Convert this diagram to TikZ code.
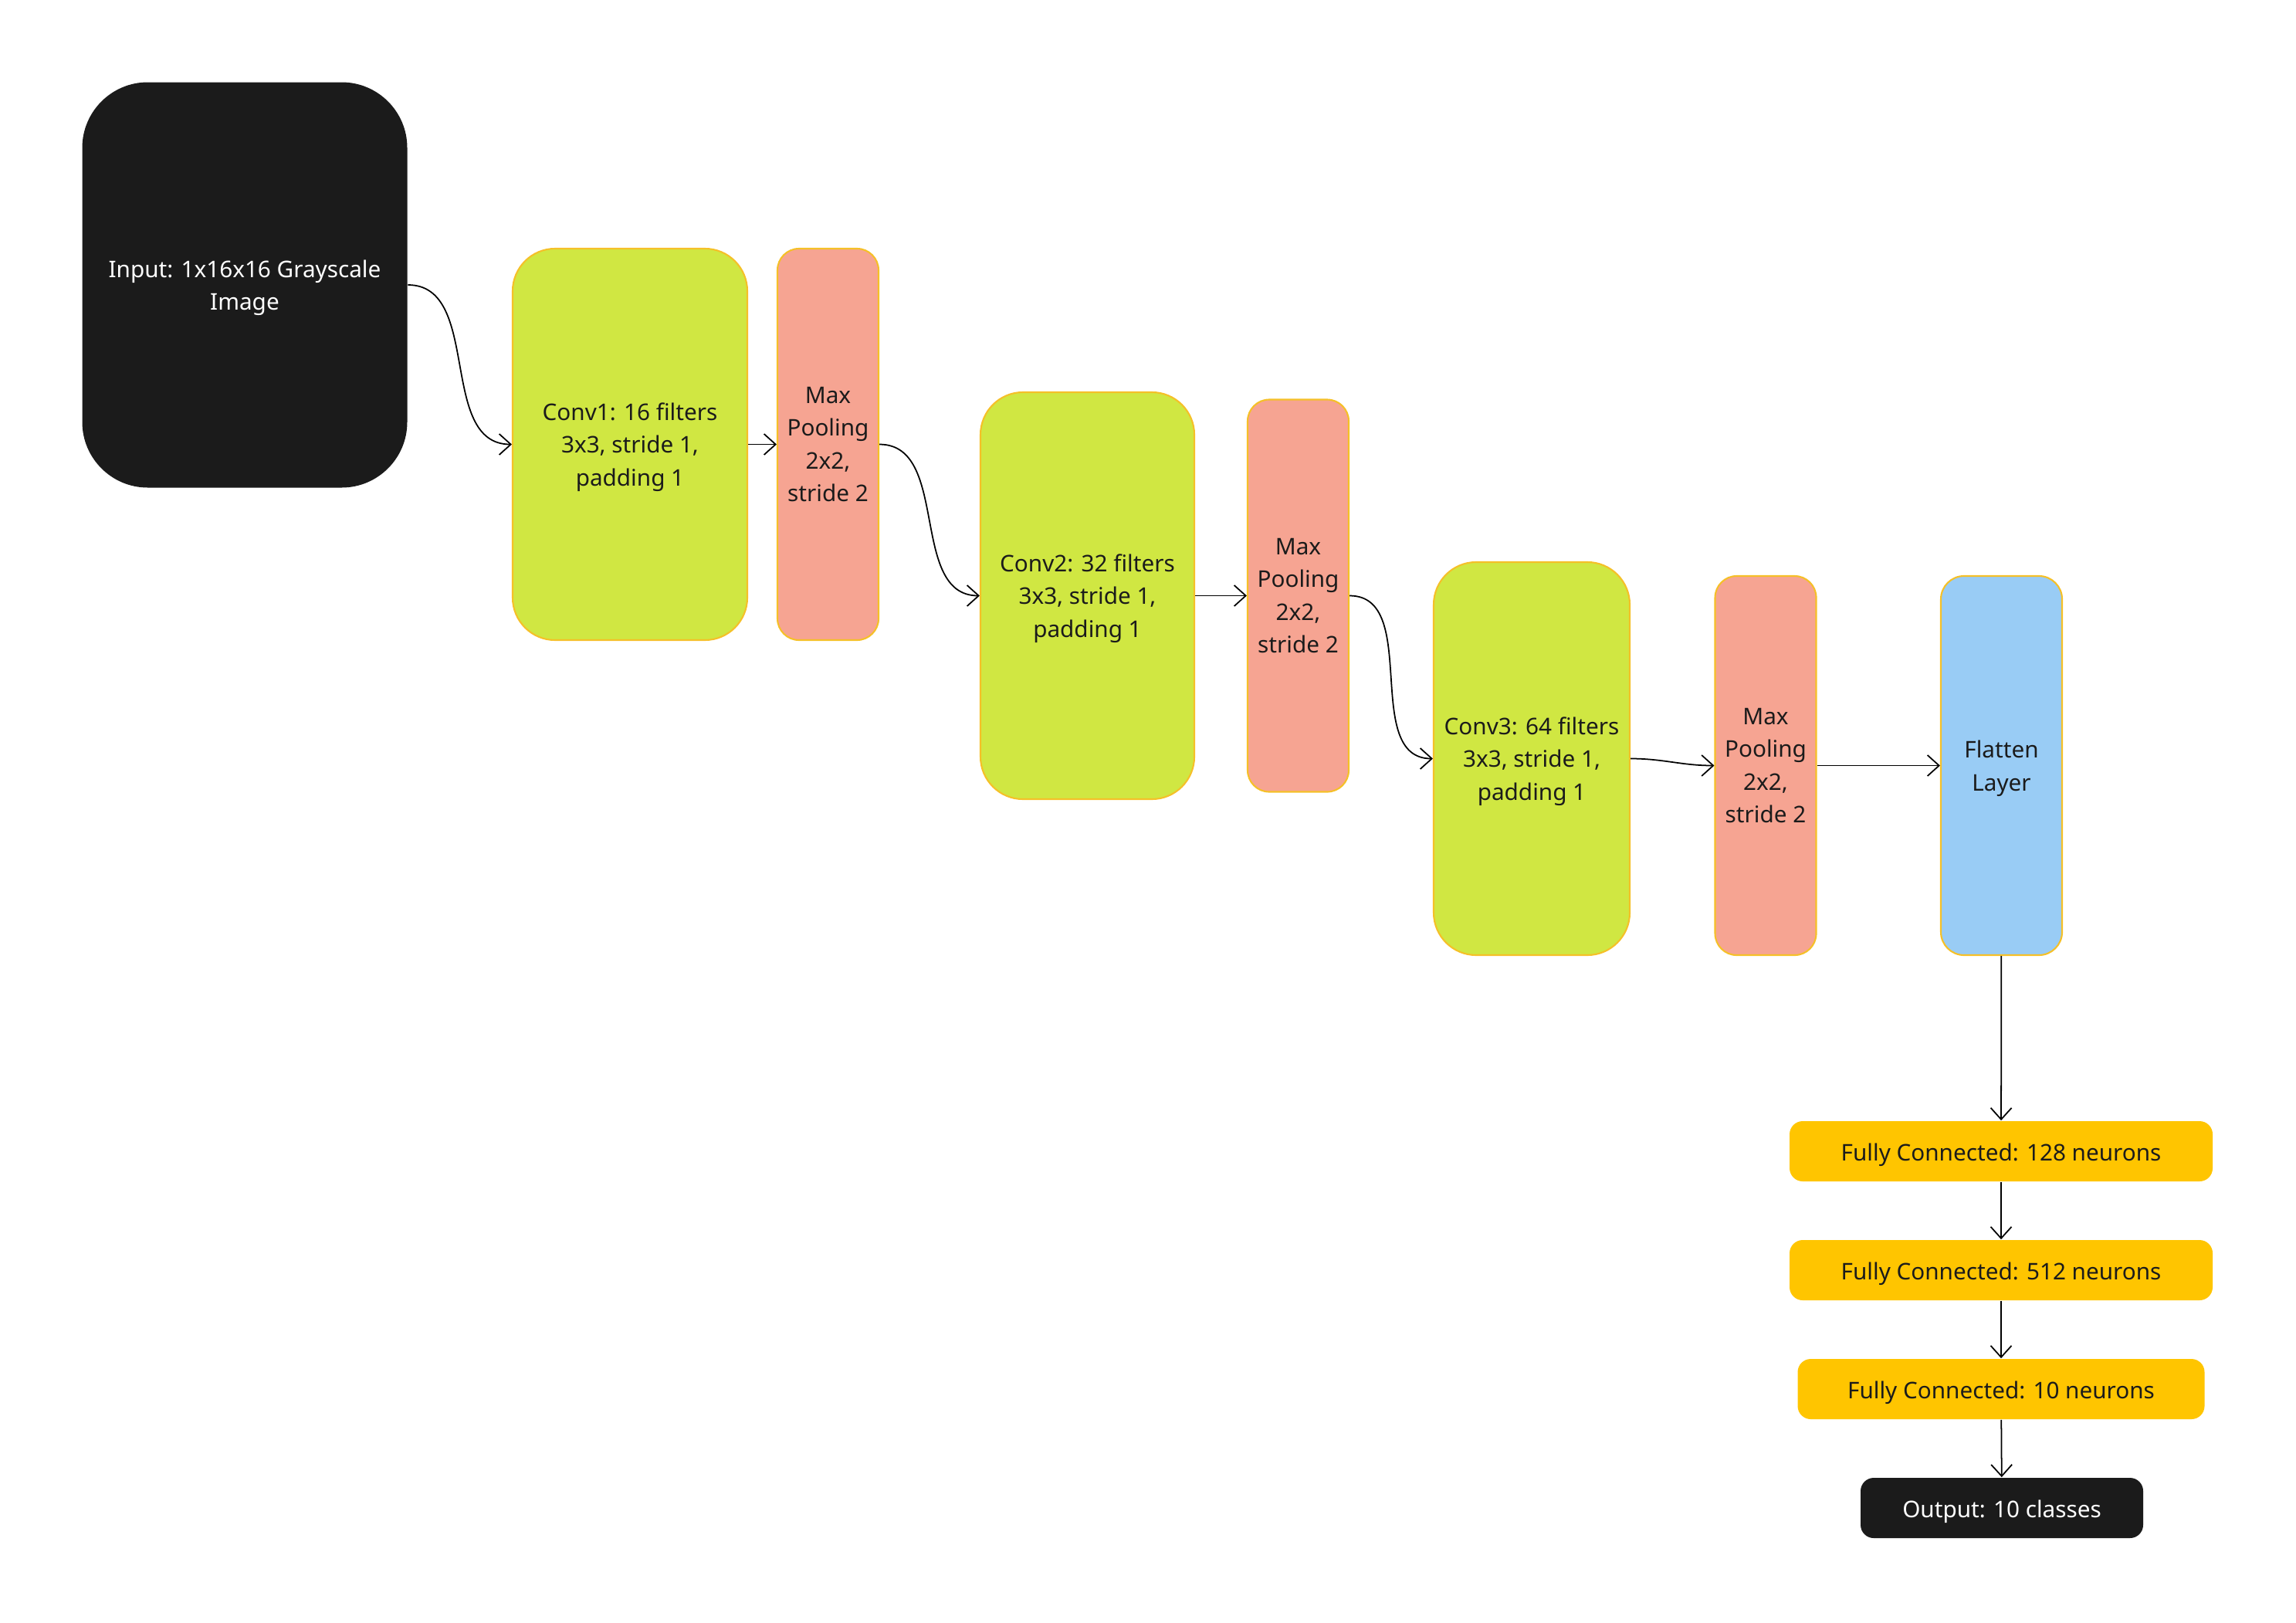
\documentclass[tikz,border=0pt]{standalone}
\usepackage{fontspec}
\setmainfont{Noto Sans}
\usetikzlibrary{arrows.meta}
\definecolor{inkdark}{RGB}{27,27,27}
\definecolor{convgreen}{RGB}{208,231,66}
\definecolor{poolred}{RGB}{246,164,146}
\definecolor{flatblue}{RGB}{153,204,245}
\definecolor{fcyellow}{RGB}{255,197,0}
\definecolor{edgeyellow}{RGB}{245,192,40}
\begin{document}
\begin{tikzpicture}[>={Straight Barb[length=1.5mm, width=2.7mm]}, line width=0.5pt,
	font=\fontsize{8.45}{12.1}\selectfont,
	boxtext/.style={execute at begin node={\rule{0pt}{9pt}}},
	layer/.style={draw=edgeyellow, line width=0.6pt, align=center, inner sep=0pt, text=inkdark, text depth=-0.7pt},
	conv/.style={layer, fill=convgreen, rounded corners=5.5mm},
	pool/.style={layer, fill=poolred, rounded corners=2.8mm, minimum width=1.31cm, text depth=-1.5pt},
	dense/.style={boxtext, fill=fcyellow, rounded corners=1.7mm, minimum height=0.78cm, inner sep=0pt, text=inkdark},
	blackbox/.style={fill=inkdark, text=white, align=center, inner sep=0pt}]
	\useasboundingbox (0, 0) rectangle (29.74, -21.01);
	\node[blackbox, rounded corners=8.5mm, minimum width=4.21cm, minimum height=5.25cm, text depth=-0.7pt] (input) at (3.17, -3.69) {Input: 1x16x16 Grayscale\\Image};
	\node[conv, minimum width=3.04cm, minimum height=5.07cm] (conv1) at (8.16, -5.755) {Conv1: 16 filters\\3x3, stride 1,\\padding 1};
	\node[pool, minimum height=5.07cm] (pool1) at (10.725, -5.755) {Max\\Pooling\\2x2,\\stride 2};
	\node[conv, minimum width=2.77cm, minimum height=5.27cm] (conv2) at (14.085, -7.715) {Conv2: 32 filters\\3x3, stride 1,\\padding 1};
	\node[pool, minimum height=5.08cm] (pool2) at (16.815, -7.715) {Max\\Pooling\\2x2,\\stride 2};
	\node[conv, minimum width=2.54cm, minimum height=5.09cm] (conv3) at (19.84, -9.825) {Conv3: 64 filters\\3x3, stride 1,\\padding 1};
	\node[pool, minimum height=4.91cm] (pool3) at (22.87, -9.915) {Max\\Pooling\\2x2,\\stride 2};
	\node[layer, fill=flatblue, rounded corners=3mm, minimum width=1.57cm, minimum height=4.91cm] (flat) at (25.925, -9.915) {Flatten\\Layer};
	\node[dense, minimum width=5.48cm] (fc1) at (25.92, -14.91) {Fully Connected: 128 neurons};
	\node[dense, minimum width=5.48cm] (fc2) at (25.92, -16.45) {Fully Connected: 512 neurons};
	\node[dense, minimum width=5.27cm] (fc3) at (25.92, -17.99) {Fully Connected: 10 neurons};
	\node[blackbox, boxtext, rounded corners=1.7mm, minimum width=3.66cm, minimum height=0.78cm] (out) at (25.93, -19.53) {Output: 10 classes};
	% feature extraction
	\draw[->] (input.east) to[out=0, in=180] (conv1.west);
	\draw[->] (conv1) -- (pool1);
	\draw[->] (pool1.east) to[out=0, in=180] (conv2.west);
	\draw[->] (conv2) -- (pool2);
	\draw[->] (pool2.east) to[out=0, in=180] (conv3.west);
	\draw[->] (conv3.east) to[out=0, in=180] (pool3.west);
	\draw[->] (pool3) -- (flat);
	% classifier
	\draw[->] (flat) -- (fc1);
	\draw[->] (fc1) -- (fc2);
	\draw[->] (fc2) -- (fc3);
	\draw[->] (fc3) -- (out);
\end{tikzpicture}
\end{document}
